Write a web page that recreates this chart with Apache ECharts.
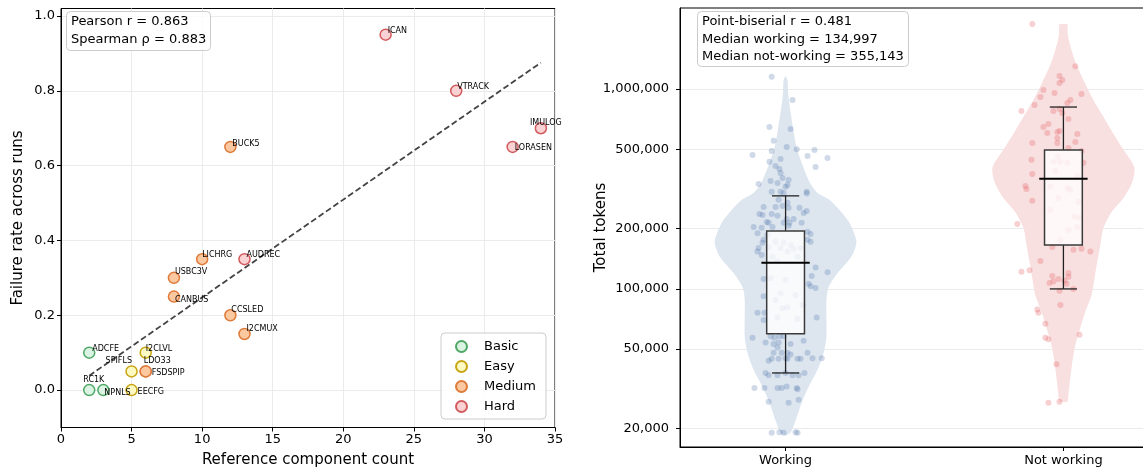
<!DOCTYPE html>
<html><head><meta charset="utf-8">
<script src="https://cdn.jsdelivr.net/npm/echarts@6/dist/echarts.min.js"></script>
<style>html,body{margin:0;padding:0;background:#fff}#c{width:1143px;height:473px}</style>
</head><body><div id="c"></div>
<script>
// ---------------- LEFT PANEL DATA ----------------
const componentNames = ['ADCFE','RC1K','NPNLS','I2CLVL','SPIFLS','EECFG','LDO33','FSDSPIP','CANBUS','USBC3V','LICHRG','CCSLED','I2CMUX','BUCK5','AUDREC','ICAN','VTRACK','IMULOG','LORASEN'];
const refComponentCounts = [2,2,3,6,5,5,6,6,8,8,10,12,13,12,13,23,28,34,32];
const failureRates = [0.10,0.0,0.0,0.10,0.05,0.0,0.05,0.05,0.25,0.30,0.35,0.20,0.15,0.65,0.35,0.95,0.80,0.70,0.65];
const tiers = ['Basic','Basic','Basic','Easy','Easy','Easy','Medium','Medium','Medium','Medium','Medium','Medium','Medium','Medium','Hard','Hard','Hard','Hard','Hard'];
const tierNames = ['Basic','Easy','Medium','Hard'];
const leftXTicks = [0,5,10,15,20,25,30,35];
const leftYTicks = [0.0,0.2,0.4,0.6,0.8,1.0];
const corrStats = ['Pearson r = 0.863','Spearman \u03c1 = 0.883'];

// ---------------- RIGHT PANEL DATA ----------------
const groupNames = ['Working','Not working'];
const rightYTicks = [20000,50000,100000,200000,500000,1000000];
const tokenStats = ['Point-biserial r = 0.481','Median working = 134,997','Median not-working = 355,143'];
// box stats: [lower whisker, Q1, median, Q3, upper whisker]
const workingBox = [38000,59600,134997,195000,292000];
const notWorkingBox = [100000,166000,355143,495000,812000];
// violin density profile: [tokens, half width in category units]
const workingViolin = [[1160000,0],[1110000,0.007],[900000,0.011],[610000,0.029],[507000,0.040],[417000,0.061],[343000,0.086],[302000,0.115],[279000,0.158],[248000,0.194],[214000,0.230],[172000,0.255],[145000,0.237],[120000,0.187],[102000,0.155],[88000,0.147],[57500,0.147],[48000,0.137],[39400,0.115],[32400,0.083],[27000,0.058],[22000,0.036],[19100,0.018],[18500,0]];
const notWorkingViolin = [[2110000,0],[2110000,0.014],[1860000,0.016],[1600000,0.027],[1320000,0.047],[1080000,0.076],[902000,0.104],[741000,0.140],[610000,0.176],[507000,0.212],[407000,0.255],[343000,0.248],[285000,0.216],[242000,0.173],[202000,0.144],[166000,0.133],[137000,0.122],[113000,0.112],[93000,0.101],[77000,0.079],[64000,0.061],[52500,0.043],[43000,0.032],[36000,0.025],[29600,0.018],[27300,0.014],[27300,0]];
// jittered points: [horizontal jitter, tokens]
const workingPoints = [[-0.050,1150000],[0.025,881000],[-0.058,646000],[0.018,630000],[-0.043,550000],[0.004,513000],[0.040,500000],[-0.119,468000],[-0.050,490000],[0.079,462000],[0.104,495000],[0.151,452000],[-0.018,447000],[-0.058,432000],[-0.036,412000],[0.108,407000],[-0.022,398000],[-0.018,380000],[-0.011,359000],[0.011,351000],[-0.054,347000],[-0.029,339000],[-0.097,335000],[0.007,331000],[0,324000],[-0.050,306000],[-0.018,306000],[-0.007,302000],[0.076,306000],
[0.076,300000],[-0.025,279000],[0.007,270000],[-0.079,257000],[-0.036,257000],[-0.011,260000],[0.011,255000],[0.050,255000],[0.076,245000],[-0.094,237000],[-0.083,234000],[-0.050,237000],[-0.029,232000],[0.065,240000],[0.004,224000],[0.029,224000],[-0.068,216000],[-0.061,214000],[-0.007,214000],[0.014,214000],[0.058,214000],[-0.115,204000],[-0.086,202000],[-0.047,204000],[0.011,207000],[0.079,193000],[0.090,188000],[-0.101,190000],[-0.065,186000],[-0.079,176000],[0.079,176000],[0.090,172000],[-0.083,170000],[-0.036,172000],[-0.007,170000],[0.018,166000],[-0.097,160000],[-0.061,162000],[-0.018,160000],[0.029,159000],[0.054,160000],[-0.101,154000],[-0.086,148000],[0.007,154000],[-0.047,145000],[0.043,145000],[-0.029,137000],[0.108,128000],[0.151,121000],[0.094,116000],[-0.079,112000],[-0.054,113000],[0,111000],[0.083,106000],[0.090,103000],[0.108,101000],[-0.079,92000],[-0.018,95000],[0.036,93000],[0.061,83000],[-0.036,88000],[0.007,81000],[-0.101,76000],[-0.076,76000],[-0.011,80000],[0.112,72000],[-0.079,70000],[0.043,71000],[-0.029,72000],
[-0.119,57000],[-0.054,58000],[-0.040,57000],[-0.022,58000],[-0.007,58000],[-0.072,54000],[-0.043,53000],[-0.025,54000],[0.018,53000],[0.065,55000],[-0.029,51000],[-0.043,48000],[-0.014,48000],[0.007,48000],[0.079,48000],[0.018,47000],[-0.061,43700],[-0.050,44700],[-0.025,44700],[0,45000],[0.007,44700],[0.043,44700],[0.054,44700],[0.097,45000],[0.130,45000],[-0.072,38000],[-0.061,37000],[-0.029,37000],[0,38000],[0.025,37000],[0.047,37000],[0.068,38000],[-0.112,32000],[-0.076,32000],[-0.029,32000],[-0.014,32000],[0.004,32500],[0.040,32000],[0.043,31500],[-0.061,27300],[0.011,27000],[0.047,27900],[-0.050,19100],[-0.022,19200],[-0.007,19100],[0.036,19200],[0.043,19100]];
const notWorkingPoints = [[-0.112,2110000],[0.043,1300000],[-0.014,1160000],[-0.004,1110000],[-0.014,1070000],[-0.072,989000],[-0.032,955000],[0.065,944000],[-0.083,912000],[0.025,881000],[0.014,851000],[-0.104,832000],[-0.151,776000],[-0.036,776000],[-0.014,794000],[-0.004,759000],[0.018,708000],[-0.054,668000],[-0.072,646000],[-0.014,617000],[-0.058,603000],[-0.022,610000],[0.050,596000],[-0.022,569000],[-0.112,537000],[-0.022,537000],[0.043,543000],[0.018,507000],[0.065,490000],[-0.115,442000],[0.072,427000],[-0.036,432000],[-0.011,432000],[0.014,427000],[-0.112,376000],[0.050,367000],[-0.137,327000],[-0.133,316000],[-0.047,324000],[0.014,320000],[-0.112,276000],[0.054,272000],[-0.018,285000],
[0.058,227000],[0.050,204000],[-0.166,211000],[-0.040,162000],[0.036,157000],[0.065,159000],[0.097,154000],[-0.083,138000],[-0.151,122000],[-0.122,124000],[-0.040,116000],[-0.018,112000],[0.018,120000],[0.018,115000],[-0.050,107000],[-0.036,109000],[0.004,110000],[0.011,106000],[0.036,100000],[-0.014,98000],[-0.011,83000],[-0.094,79000],[-0.090,76000],[-0.065,67000],[0.058,59000],[-0.065,57000],[-0.054,56000],[-0.025,42000],[-0.054,27000],[-0.014,27300],
[-0.029,390000],[0.025,313000],[-0.047,248000],[0.018,197000],[-0.011,176000],[0.040,230000],[-0.020,460000]];

// ---------------- STYLES ----------------
const FONT = 'DejaVu Sans';
const tierStyle = {
  Basic:  {fill:'#daf3e2', edge:'#4fa866'},
  Easy:   {fill:'#fdf9c2', edge:'#c7a512'},
  Medium: {fill:'#fbc8a0', edge:'#de7b3a'},
  Hard:   {fill:'#fad2d3', edge:'#d25b5e'}
};
// label nudges [dx to label left edge, dy to label centre] in px
const labelNudge = {
  ADCFE:[3,-4], RC1K:[-6,-10], NPNLS:[1,3], I2CLVL:[0,-4], SPIFLS:[-26,-10], EECFG:[6,2],
  LDO33:[-2,-10], FSDSPIP:[6,2], CANBUS:[1,3], USBC3V:[1,-6], LICHRG:[0,-4], CCSLED:[1,-5],
  I2CMUX:[2,-5], BUCK5:[2,-3], AUDREC:[2,-4], ICAN:[2,-4], VTRACK:[1,-4], IMULOG:[-11,-5], LORASEN:[2,1]
};
const violinFill = ['#dde6ef','#f8dfe0'];
const pointColor = ['rgba(74,112,168,0.33)','rgba(228,100,106,0.38)'];

// least squares fit from data
const n = refComponentCounts.length;
const mx = refComponentCounts.reduce((a,b)=>a+b,0)/n;
const my = failureRates.reduce((a,b)=>a+b,0)/n;
let sxy=0,sxx=0;
for(let i=0;i<n;i++){sxy+=(refComponentCounts[i]-mx)*(failureRates[i]-my);sxx+=(refComponentCounts[i]-mx)**2;}
const slope=sxy/sxx, icpt=my-slope*mx;
const xMinD=Math.min(...refComponentCounts), xMaxD=Math.max(...refComponentCounts);
const fitLine=[[xMinD,icpt+slope*xMinD],[xMaxD,icpt+slope*xMaxD]];

const tierSeries = tierNames.map(t => ({
  name: t, type:'scatter', xAxisIndex:0, yAxisIndex:0, z:5,
  symbol:'circle', symbolSize:11,
  itemStyle:{color:tierStyle[t].fill, borderColor:tierStyle[t].edge, borderWidth:1.5, opacity:1},
  label:{show:true, position:'inside', align:'left', verticalAlign:'middle', formatter:'{b}', fontSize:8, color:'#000', fontFamily:FONT},
  emphasis:{disabled:true},
  data: componentNames.map((nm,i)=>({nm,i})).filter(o=>tiers[o.i]===t).map(o=>({
    name:o.nm, value:[refComponentCounts[o.i], failureRates[o.i]],
    label:{offset: labelNudge[o.nm] || [2,-4]}
  }))
}));

const boxes=[workingBox, notWorkingBox];
const violins=[workingViolin, notWorkingViolin];

function violinItem(params, api){
  const g=params.dataIndex, prof=violins[g], pts=[];
  for(const [v,w] of prof) pts.push(api.coord([g+w,v]));
  for(let i=prof.length-1;i>=0;i--) pts.push(api.coord([g-prof[i][1],prof[i][0]]));
  return {type:'polygon', shape:{points:pts, smooth:0.25}, style:{fill:violinFill[g], stroke:null}};
}
function boxItem(params, api){
  const g=params.dataIndex, [lo,q1,med,q3,hi]=boxes[g];
  const bw=0.068, mw=0.087, cw=0.049;
  const a=api.coord([g-bw,q3]), b=api.coord([g+bw,q1]);
  const L=(x1,y1,x2,y2,c,w)=>({type:'line',shape:{x1,y1,x2,y2},style:{stroke:c,lineWidth:w}});
  const c=api.coord([g,lo]), d=api.coord([g,hi]), cq1=api.coord([g,q1]), cq3=api.coord([g,q3]);
  const cl=api.coord([g-cw,lo]), cr=api.coord([g+cw,lo]), hl=api.coord([g-cw,hi]), hr=api.coord([g+cw,hi]);
  const ml=api.coord([g-mw,med]), mr=api.coord([g+mw,med]);
  return {type:'group', children:[
    L(c[0],c[1],cq1[0],cq1[1],'#222',1.3),
    L(d[0],d[1],cq3[0],cq3[1],'#222',1.3),
    L(cl[0],cl[1],cr[0],cr[1],'#222',1.3),
    L(hl[0],hl[1],hr[0],hr[1],'#222',1.3),
    {type:'rect', shape:{x:a[0],y:a[1],width:b[0]-a[0],height:b[1]-a[1]}, style:{fill:'rgba(255,255,255,0.78)',stroke:'#3a3a3a',lineWidth:1.5}},
    L(ml[0],ml[1],mr[0],mr[1],'#000',2)
  ]};
}

const axisCommon = {
  axisLine:{show:true, onZero:false, lineStyle:{color:'#000', width:1}},
  nameTextStyle:{fontSize:15, color:'#000', fontFamily:FONT},
  nameMoveOverlap:false
};

const option = {
  animation:false,
  textStyle:{fontFamily:FONT},
  title:[
    {text:corrStats.join('\n'), left:66, top:11, padding:[2,5],
     backgroundColor:'rgba(255,255,255,0.85)', borderColor:'#cccccc', borderWidth:1, borderRadius:4,
     textStyle:{fontSize:13, lineHeight:18, fontWeight:'normal', color:'#000', fontFamily:FONT}},
    {text:tokenStats.join('\n'), left:697, top:11, padding:[2,5,1,5],
     backgroundColor:'rgba(255,255,255,0.85)', borderColor:'#cccccc', borderWidth:1, borderRadius:4,
     textStyle:{fontSize:13, lineHeight:17.5, fontWeight:'normal', color:'#000', fontFamily:FONT}}
  ],
  legend:{
    data:tierNames, orient:'vertical', left:441, top:333, padding:[7,10,6,14],
    itemWidth:35, itemHeight:11, itemGap:7,
    backgroundColor:'rgba(255,255,255,0.85)', borderColor:'#cccccc', borderWidth:1, borderRadius:4,
    textStyle:{fontSize:13, color:'#000', fontFamily:FONT},
    selectedMode:false
  },
  grid:[
    {left:61, top:8.5, width:494, height:419, show:true, borderColor:'#000', borderWidth:1, backgroundColor:'transparent', outerBoundsMode:'none'},
    {left:680, top:8, width:489, height:439, show:true, borderColor:'#000', borderWidth:1, backgroundColor:'transparent', outerBoundsMode:'none'}
  ],
  xAxis:[
    Object.assign({}, axisCommon, {type:'value', gridIndex:0, min:0, max:35, interval:5,
      name:'Reference component count', nameLocation:'middle', nameGap:25,
      axisLabel:{fontSize:13, color:'#000', margin:6, fontFamily:FONT, customValues:leftXTicks},
      axisTick:{show:true, length:4, lineStyle:{color:'#000'}, customValues:leftXTicks},
      splitLine:{show:true, lineStyle:{color:'#ebebeb', width:1}}}),
    Object.assign({}, axisCommon, {type:'value', gridIndex:1, min:-0.38, max:1.38,
      axisLabel:{fontSize:13, color:'#000', margin:7, fontFamily:FONT, customValues:[0,1], formatter:v=>groupNames[Math.round(v)]},
      axisTick:{show:true, length:4, lineStyle:{color:'#000'}, customValues:[0,1]},
      splitLine:{show:false}})
  ],
  yAxis:[
    Object.assign({}, axisCommon, {type:'value', gridIndex:0, min:-0.1, max:1.02,
      name:'Failure rate across runs', nameLocation:'middle', nameGap:35, nameRotate:90,
      axisLabel:{fontSize:13, color:'#000', margin:6, fontFamily:FONT, customValues:leftYTicks, formatter:v=>v.toFixed(1)},
      axisTick:{show:true, length:4, lineStyle:{color:'#000'}, customValues:leftYTicks},
      splitLine:{show:true, lineStyle:{color:'#ebebeb', width:1}}}),
    Object.assign({}, axisCommon, {type:'log', logBase:10, gridIndex:1, min:16200, max:2540000,
      name:'Total tokens', nameLocation:'middle', nameGap:71, nameRotate:90,
      axisLabel:{fontSize:13, color:'#000', margin:11, fontFamily:FONT, customValues:rightYTicks, formatter:v=>Math.round(v).toLocaleString('en-US')},
      axisTick:{show:true, length:4, lineStyle:{color:'#000'}, customValues:rightYTicks},
      splitLine:{show:true, lineStyle:{color:'#ebebeb', width:1}}})
  ],
  series:[
    {type:'line', xAxisIndex:0, yAxisIndex:0, data:fitLine, symbol:'none', z:3,
     lineStyle:{color:'#444', width:1.8, type:[6,3]}, silent:true},
    ...tierSeries,
    {type:'custom', xAxisIndex:1, yAxisIndex:1, z:1, renderItem:violinItem, silent:true,
     data:[[0,workingBox[2]],[1,notWorkingBox[2]]]},
    {type:'scatter', xAxisIndex:1, yAxisIndex:1, z:2, symbolSize:6, silent:true,
     itemStyle:{color:pointColor[0]}, data:workingPoints.map(p=>[0+p[0],p[1]])},
    {type:'scatter', xAxisIndex:1, yAxisIndex:1, z:2, symbolSize:6, silent:true,
     itemStyle:{color:pointColor[1]}, data:notWorkingPoints.map(p=>[1+p[0],p[1]])},
    {type:'custom', xAxisIndex:1, yAxisIndex:1, z:3, renderItem:boxItem, silent:true,
     data:[[0,workingBox[2]],[1,notWorkingBox[2]]]}
  ]
};
const chart = echarts.init(document.getElementById('c'), null, {renderer:'canvas'});
chart.setOption(option);
</script>
</body></html>
